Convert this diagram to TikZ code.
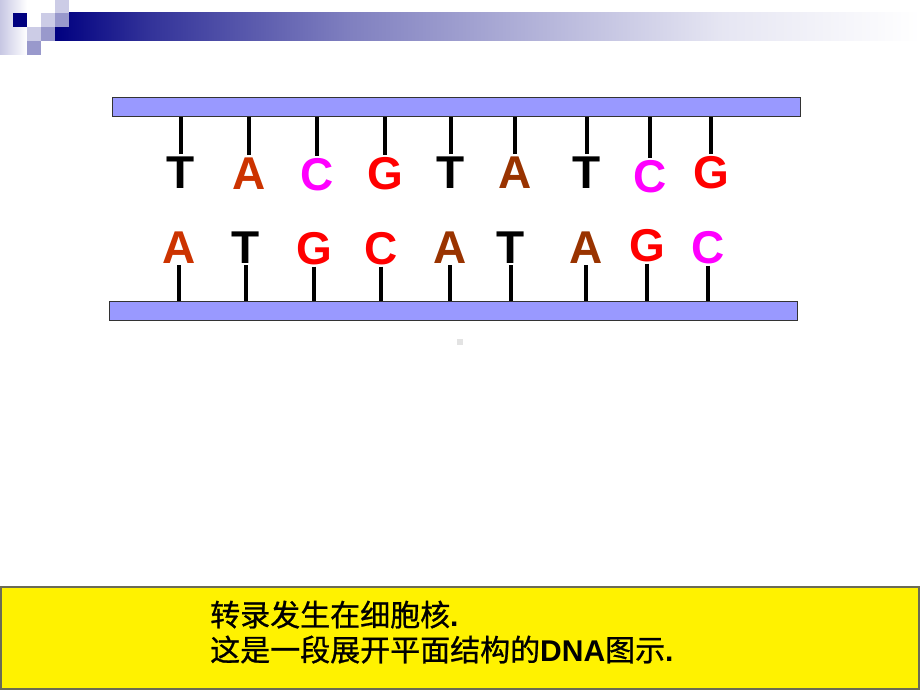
\documentclass[tikz,border=0pt]{standalone}
\usepackage{fontspec}
\setmainfont{Liberation Sans}
\newfontfamily\cjk[FakeBold=0.8]{Noto Sans CJK SC}
\usetikzlibrary{positioning}
\definecolor{navy}{HTML}{000080}
\definecolor{lavlight}{HTML}{CCCCE6}
\definecolor{lavmid}{HTML}{9999CC}
\definecolor{strandfill}{HTML}{9999FF}
\definecolor{strandline}{HTML}{333333}
\definecolor{boxline}{HTML}{6B6B55}
\definecolor{aOrange}{HTML}{CC3300}
\definecolor{aBrown}{HTML}{993300}
\definecolor{gRed}{HTML}{FF0000}
\definecolor{cMagenta}{HTML}{FF00FF}
\pgfdeclarehorizontalshading{banner}{100bp}{color(0bp)=(navy); color(25bp)=(navy); color(30.5bp)=(navy!80!white); color(42bp)=(navy!50!white); color(63.5bp)=(navy!10!white); color(75bp)=(white); color(100bp)=(white)}
\tikzstyle{strand} = [draw=strandline, fill=strandfill, line width=1pt, minimum width=688pt, minimum height=19pt, inner sep=0pt]
\tikzstyle{nucleo} = [font=\fontsize{46}{46}\selectfont\bfseries, inner sep=0pt, anchor=base]
\tikzstyle{rung} = [line width=4pt, shorten <=2pt]
\tikzstyle{notebox} = [draw=boxline, fill=yellow, line width=1.5pt, minimum width=918pt, minimum height=102pt, inner sep=0pt]
\tikzstyle{caption} = [font=\cjk\fontsize{30}{30}\selectfont, inner sep=0pt, anchor=base west]
\newcommand{\lat}[1]{{\rmfamily\bfseries #1}}

\begin{document}
\begin{tikzpicture}[x=1pt, y=-1pt]
\useasboundingbox (0,0) rectangle (920,690);

% header
\shade [left color=lavlight!90!lavmid, right color=white] (0,0) rectangle (27,55);
\shade [shading=banner] (55,13) rectangle (920,41);
\fill [navy] (13,13) rectangle (27,27);
\fill [lavlight] (55,0) rectangle (69,13);
\fill [lavlight] (41,13) rectangle (55,27);
\fill [lavmid] (55,13) rectangle (69,27);
\fill [lavlight] (27,27) rectangle (41,41);
\fill [lavmid] (41,27) rectangle (55,41);
\fill [lavmid] (27,41) rectangle (41,55);

% strands
\node [strand] (strandtop) at (456,107.5) {};
\node [strand] (strandbot) at (453,310.5) {};

% upper bases
\node [nucleo] (t1) at (181,188) {T};
\node [nucleo, text=aOrange] (t2) at (249,189) {A};
\node [nucleo, text=cMagenta] (t3) at (317,190) {C};
\node [nucleo, text=gRed] (t4) at (385,189) {G};
\node [nucleo] (t5) at (451,188) {T};
\node [nucleo, text=aBrown] (t6) at (515,188) {A};
\node [nucleo] (t7) at (587,188) {T};
\node [nucleo, text=cMagenta] (t8) at (650,192) {C};
\node [nucleo, text=gRed] (t9) at (711,188) {G};

% lower bases
\node [nucleo, text=aOrange] (b1) at (179,263) {A};
\node [nucleo] (b2) at (246,263) {T};
\node [nucleo, text=gRed] (b3) at (314,264) {G};
\node [nucleo, text=gRed] (b4) at (381,264) {C};
\node [nucleo, text=aBrown] (b5) at (450,263) {A};
\node [nucleo] (b6) at (511,263) {T};
\node [nucleo, text=aBrown] (b7) at (586,263) {A};
\node [nucleo, text=gRed] (b8) at (647,261) {G};
\node [nucleo, text=cMagenta] (b9) at (708,263) {C};

\foreach \n in {t1,t2,t3,t4,t5,t6,t7,t8,t9}
  \draw [rung] (\n.north) -- (\n.north |- strandtop.south);
\foreach \n in {b1,b2,b3,b4,b5,b6,b7,b8,b9}
  \draw [rung] (\n.south) -- (\n.south |- strandbot.north);

\fill [gray!22] (457,339) rectangle (463,345);

% note
\node [notebox] (note) at (460,638) {};
\node [caption] (line1) at (210,626) {转录发生在细胞核\lat{.}};
\node [caption] (line2) at (210,661) {这是一段展开平面结构的\lat{DNA}图示\lat{.}};

\end{tikzpicture}
\end{document}
